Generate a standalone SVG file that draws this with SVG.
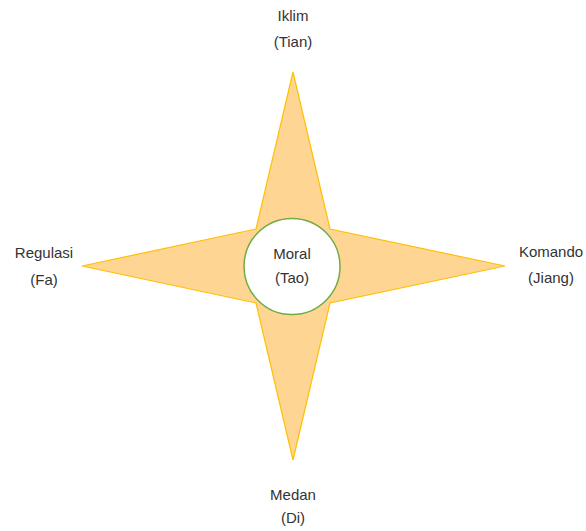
<svg xmlns="http://www.w3.org/2000/svg" width="586" height="531" viewBox="0 0 586 531">
<style>
.lbl{font-family:"Liberation Sans",Arial,sans-serif;font-size:15px;fill:#333;text-anchor:middle}
.star{fill:#FED592;stroke:#FFC000;stroke-width:1.2;stroke-linejoin:miter}
.core{fill:#fff;stroke:#70AD47;stroke-width:1.5}
</style>
<rect width="586" height="531" fill="#fff"/>
<g id="star">
<polygon class="star" points="293,72 330,229 505,266 330,303 293,460 256,303 82,266 256,229"/>
</g>
<g id="moral">
<circle class="core" cx="292" cy="266.5" r="48"/>
<text class="lbl" x="292" y="259">Moral</text>
<text class="lbl" x="292" y="283">(Tao)</text>
</g>
<g id="iklim">
<text class="lbl" x="293" y="21">Iklim</text>
<text class="lbl" x="293" y="47">(Tian)</text>
</g>
<g id="regulasi">
<text class="lbl" x="44" y="258">Regulasi</text>
<text class="lbl" x="44" y="285">(Fa)</text>
</g>
<g id="komando">
<text class="lbl" x="551" y="257">Komando</text>
<text class="lbl" x="551" y="283">(Jiang)</text>
</g>
<g id="medan">
<text class="lbl" x="293" y="500">Medan</text>
<text class="lbl" x="293" y="523">(Di)</text>
</g>
<g id="connectors"></g>
</svg>
